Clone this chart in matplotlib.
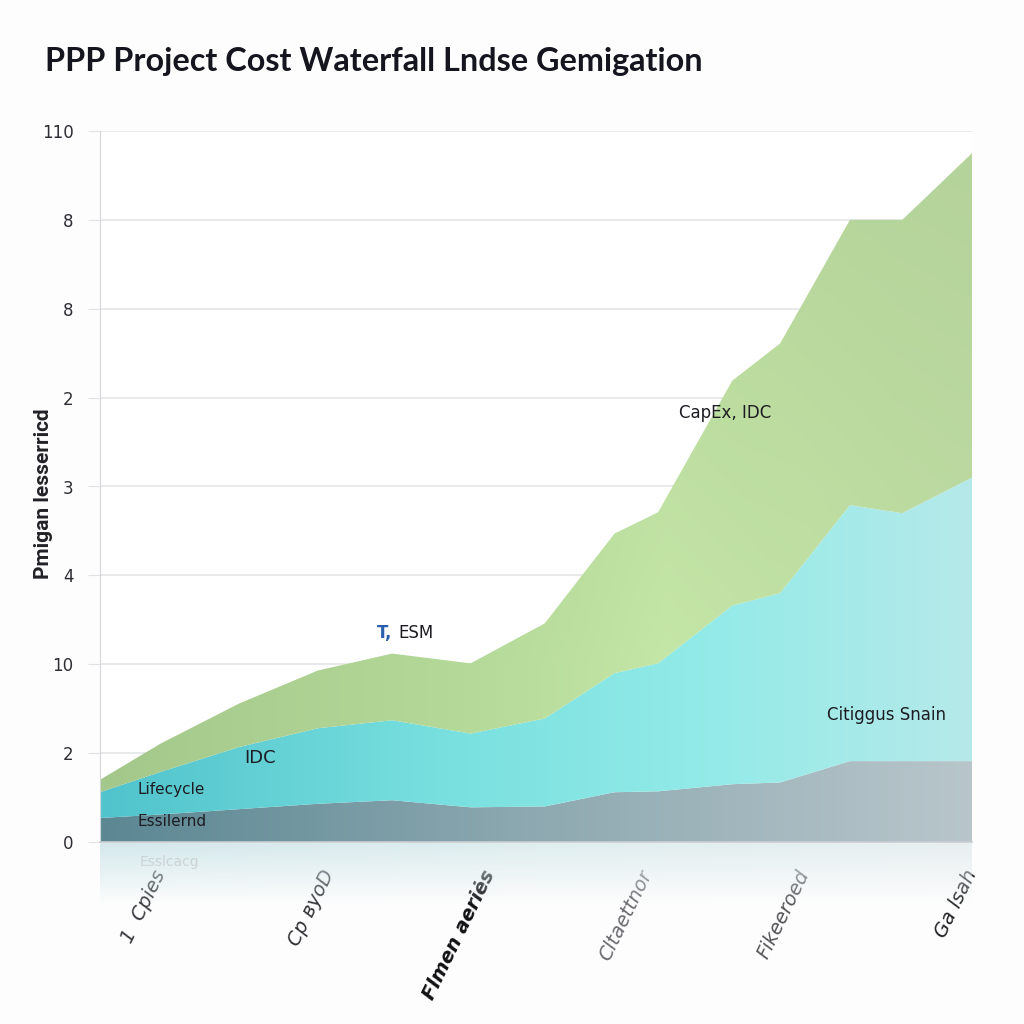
import numpy as np
import matplotlib
matplotlib.use("Agg")
import matplotlib.pyplot as plt
from matplotlib.ticker import FixedLocator, FixedFormatter

# ---------------- data ----------------
timeline = [0, 7, 16, 25, 33.5, 42.5, 51, 59, 64, 72.5, 78, 86, 92, 100]
essential = [2.7, 3.1, 3.7, 4.3, 4.7, 3.9, 4.0, 5.6, 5.7, 6.5, 6.7, 9.1, 9.1, 9.1]
lifecycle = [2.9, 4.8, 7.0, 8.5, 9.0, 8.3, 9.9, 13.4, 14.4, 20.1, 21.3, 28.8, 27.9, 31.9]
capex_idc = [1.4, 3.2, 4.9, 6.5, 7.5, 7.9, 10.7, 15.7, 17.0, 25.3, 28.1, 32.1, 33.0, 36.5]

y_ticks = [0, 10, 20, 30, 40, 50, 60, 70, 80]
y_tick_labels = ["0", "2", "10", "4", "3", "2", "8", "8", "110"]
x_ticks = [6, 25.3, 43.8, 61.8, 79.8, 99]
x_tick_labels = ["1  Cpies", "Cp вуoD", "Flmen aeriės", "Cltaettnor", "Fikeeroed", "Ga lsah"]

title = "PPP Project Cost Waterfall Lndse Gemigation"
y_label = "Pmigan lesserricd"

# ---------------- figure ----------------
fig = plt.figure(figsize=(10.24, 10.24), dpi=100)
fig.patch.set_facecolor("#fdfdfd")
ax = fig.add_axes([100 / 1024, 1 - 842 / 1024, 872 / 1024, 711 / 1024])
ax.set_facecolor("#ffffff")
ax.set_xlim(0, 100)
ax.set_ylim(0, 80)

polys = ax.stackplot(timeline, essential, lifecycle, capex_idc,
                     colors=["#7fa0aa", "#7fdcdc", "#bddc9f"], zorder=2, linewidth=0)


def hexrgb(h):
    h = h.lstrip("#")
    return np.array([int(h[i:i + 2], 16) / 255 for i in (0, 2, 4)])


def grad_img(stops_x, cols, vert_col=None, vert_amt=0.0, vlo=0, vhi=80):
    nx, ny = 300, 200
    xs = np.linspace(0, 100, nx)
    ys = np.linspace(0, 80, ny)
    cols = np.array([hexrgb(c) for c in cols])
    row = np.stack([np.interp(xs, stops_x, cols[:, k]) for k in range(3)], axis=-1)
    img = np.repeat(row[None, :, :], ny, axis=0)
    if vert_col is not None:
        t = np.clip((ys - vlo) / (vhi - vlo), 0, 1)[:, None, None]
        img = img * (1 - vert_amt * t) + hexrgb(vert_col)[None, None, :] * vert_amt * t
    return img


imgs = [
    grad_img([0, 50, 100], ["#5b8793", "#8ea9b1", "#b8c6cb"]),
    grad_img([0, 40, 70, 100], ["#50c3cc", "#79e0df", "#93ebe8", "#b6e9ea"]),
    grad_img([0, 40, 65, 100], ["#a4c88b", "#b3d897", "#c4e6a6", "#bedca3"],
             vert_col="#adcc94", vert_amt=0.6, vlo=20, vhi=80),
]
for poly, img in zip(polys, imgs):
    path = poly.get_paths()[0]
    poly.set_facecolor("none")
    im = ax.imshow(img, extent=[0, 100, 0, 80], origin="lower", aspect="auto",
                   zorder=2, interpolation="bilinear")
    im.set_clip_path(path, transform=ax.transData)
ax.set_xlim(0, 100)
ax.set_ylim(0, 80)

# grid / spines / ticks
ax.yaxis.set_major_locator(FixedLocator(y_ticks))
ax.yaxis.set_major_formatter(FixedFormatter(y_tick_labels))
ax.grid(axis="y", color="#e3e5e8", linewidth=1.2, zorder=0)
ax.set_axisbelow(True)
for s in ["top", "right"]:
    ax.spines[s].set_visible(False)
ax.spines["left"].set_color("#d4d6da")
ax.spines["bottom"].set_color("#c9ccd0")
ax.spines["bottom"].set_linewidth(1.2)
ax.tick_params(axis="y", length=9, color="#e0e2e5", labelsize=12, labelcolor="#2d2d33", pad=10)
ax.tick_params(axis="x", length=0, labelsize=14, pad=18)
ax.set_xticks(x_ticks)
ax.set_xticklabels(x_tick_labels, rotation=64, ha="right", va="top",
                   rotation_mode="anchor", style="italic", family="DejaVu Sans")
xl = ax.get_xticklabels()
xl_colors = ["#3a3a40", "#333338", "#111114", "#6a6a70", "#555559", "#222226"]
xl_weights = ["normal", "normal", "bold", "normal", "normal", "normal"]
for t, c, w in zip(xl, xl_colors, xl_weights):
    t.set_color(c)
    t.set_fontweight(w)

ax.set_ylabel(y_label, fontsize=15, color="#222226", fontweight="bold",
              family=["Liberation Sans Narrow", "Roboto", "DejaVu Sans"])
ax.yaxis.set_label_coords(-0.054, 0.49)

# in-chart labels
ax.text(33.5, 23.5, "T,", fontsize=12, color="#2a5fae", ha="right", va="center",
        fontweight="bold", zorder=5)
ax.text(34.2, 23.5, "ESM", fontsize=12, color="#1c1c22", ha="left", va="center", zorder=5)
ax.text(71.7, 48.3, "CapEx, IDC", fontsize=12, color="#1c1c22", ha="center", va="center", zorder=5)
ax.text(90.2, 14.3, "Citiggus Snain", fontsize=12, color="#1c1c22", ha="center", va="center", zorder=5)
ax.text(18.3, 9.5, "IDC", fontsize=13, color="#1c1c22", ha="center", va="center", zorder=5)
ax.text(4.3, 5.9, "Lifecycle", fontsize=11, color="#1c1c22", ha="left", va="center", zorder=5)
ax.text(4.3, 2.3, "Essilernd", fontsize=11, color="#1c1c22", ha="left", va="center", zorder=5)

# faint reflection below the baseline
rax = fig.add_axes([100 / 1024, 1 - 905 / 1024, 872 / 1024, 62 / 1024], zorder=0)
rax.set_axis_off()
ny, nx = 60, 300
refl = np.ones((ny, nx, 4))
base = grad_img([0, 50, 100], ["#cfe6ea", "#dcecee", "#e6eef0"])[0]
refl[:, :, :3] = base[None, :, :]
alpha = np.linspace(0.9, 0.0, ny)[:, None] * np.ones((1, nx))
refl[:, :, 3] = alpha
rax.imshow(refl, extent=[0, 1, 0, 1], aspect="auto", origin="upper")
rax.text(0.045, 0.7, "Esslcacg", fontsize=10, color="#c8ccd0", alpha=0.8,
         transform=rax.transAxes, va="center")

fig.text(45 / 1024, 1 - 62 / 1024, title, fontsize=23.3, fontweight="bold",
         family="Lato", color="#15151f", va="center", ha="left")

fig.savefig("out.png", dpi=100, facecolor=fig.get_facecolor())
